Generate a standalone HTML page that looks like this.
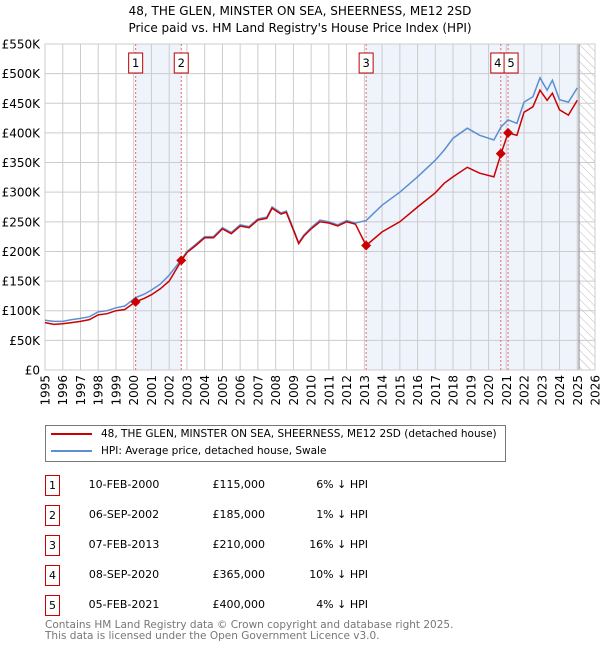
<!DOCTYPE html>
<html><head><meta charset="utf-8"><style>
body{margin:0;background:#fff;font-family:"DejaVu Sans","Liberation Sans",sans-serif;}
#wrap{position:relative;width:600px;height:650px;overflow:hidden;}
.t{position:absolute;font-size:11px;color:#000;white-space:nowrap;}
.box{position:absolute;border:1px solid #c00;width:13px;height:19px;text-align:center;line-height:19px;font-size:11px;background:#fff;}
</style></head><body>
<div id="wrap">
<div class="t" style="left:0;width:600px;text-align:center;top:3px;font-size:12px;line-height:17px">48, THE GLEN, MINSTER ON SEA, SHEERNESS, ME12 2SD<br>Price paid vs. HM Land Registry's House Price Index (HPI)</div>
<svg id="chart" width="600" height="420" style="position:absolute;left:0;top:0;font-family:'DejaVu Sans',sans-serif"></svg>
<div style="position:absolute;left:45px;top:425px;width:459px;height:35px;border:1px solid #777;">
 <div style="position:absolute;left:5px;top:2px;font-size:10.5px;white-space:nowrap"><span style="display:inline-block;width:41px;height:2px;background:#c00;vertical-align:middle;margin-right:9px"></span>48, THE GLEN, MINSTER ON SEA, SHEERNESS, ME12 2SD (detached house)</div>
 <div style="position:absolute;left:5px;top:19px;font-size:10.5px;white-space:nowrap"><span style="display:inline-block;width:41px;height:2px;background:#5b8fd0;vertical-align:middle;margin-right:9px"></span>HPI: Average price, detached house, Swale</div>
</div>
<div id="table"></div>
<div style="position:absolute;left:45px;top:620px;font-size:10.5px;color:#777;line-height:10.5px;white-space:nowrap">Contains HM Land Registry data © Crown copyright and database right 2025.<br>This data is licensed under the Open Government Licence v3.0.</div>
</div>
<script>
const hpiYears=[1995,1995.5,1996,1996.5,1997,1997.5,1998,1998.5,1999,1999.5,2000.1,2000.6,2001,2001.5,2002,2002.7,2003,2003.5,2004,2004.5,2005,2005.5,2006,2006.5,2007,2007.5,2007.8,2008.3,2008.6,2009,2009.3,2009.6,2010,2010.5,2011,2011.5,2012,2012.5,2013.1,2014,2015,2016,2017,2017.5,2018,2018.8,2019.5,2020.3,2020.7,2021.1,2021.6,2022,2022.5,2022.9,2023.3,2023.6,2024,2024.5,2025];
const hpiValues=[84,82,82,85,87,90,98,100,105,108,122,128,135,145,160,187,200,212,225,225,240,232,245,242,255,258,275,265,268,238,215,228,240,253,250,245,252,248,252,278,300,326,354,371,391,408,396,388,410,422,416,452,461,493,472,489,456,452,476];
const paidValues=[80,77,78,80,82,85,93,95,100,102,115,121,127,137,150,185,198,210,223,223,238,230,243,240,253,256,273,263,266,236,213,226,238,250,248,243,250,246,210,233,250,275,299,315,326,342,332,326,365,400,396,435,444,472,455,467,439,430,455];
const saleYears=[2000.11,2002.68,2013.1,2020.69,2021.1];
const saleValues=[115,185,210,365,400];
const saleLabels=["1","2","3","4","5"];
const saleDates=["10-FEB-2000","06-SEP-2002","07-FEB-2013","08-SEP-2020","05-FEB-2021"];
const salePrices=["£115,000","£185,000","£210,000","£365,000","£400,000"];
const saleDiffs=["6% ↓ HPI","1% ↓ HPI","16% ↓ HPI","10% ↓ HPI","4% ↓ HPI"];
const yTicks=[0,50,100,150,200,250,300,350,400,450,500,550];
const yTickLabels=["£0","£50K","£100K","£150K","£200K","£250K","£300K","£350K","£400K","£450K","£500K","£550K"];
const xStart=1995,xEnd=2026,dataEnd=2025.1;

const L=45,R=595,T=44,B=370;
const X=v=>L+(v-xStart)/(xEnd-xStart)*(R-L);
const Y=v=>B-v/550*(B-T);
const svg=document.getElementById('chart');
const NS='http://www.w3.org/2000/svg';
function mk(tag,attrs,parent){const e=document.createElementNS(NS,tag);for(const k in attrs)e.setAttribute(k,attrs[k]);(parent||svg).appendChild(e);return e;}
const defs=mk('defs',{});
const pat=mk('pattern',{id:'hatch',width:6,height:6,patternUnits:'userSpaceOnUse',patternTransform:'rotate(-45)'},defs);
mk('line',{x1:0,y1:0,x2:0,y2:6,stroke:'#bbb','stroke-width':1},pat);
let s1=mk('rect',{x:X(saleYears[0]),y:T,width:X(saleYears[1])-X(saleYears[0]),height:B-T,fill:'#eef3fc'});

let s2=mk('rect',{x:X(saleYears[2]),y:T,width:X(dataEnd)-X(saleYears[2]),height:B-T,fill:'#eef3fc'});

let h=mk('rect',{x:X(dataEnd),y:T,width:R-X(dataEnd),height:B-T,fill:'url(#hatch)'});

for(let i=0;i<yTicks.length;i++){
 const g=mk('line',{x1:L,x2:R,y1:Y(yTicks[i]),y2:Y(yTicks[i]),stroke:'#ccc','stroke-width':1});
 
 const t=mk('text',{x:L-5,y:Y(yTicks[i])+4.5,'text-anchor':'end','font-size':12,fill:'#000'});
 t.textContent=yTickLabels[i];
 
}
for(let yr=xStart;yr<=xEnd;yr++){
 const g=mk('line',{x1:X(yr),x2:X(yr),y1:T,y2:B,stroke:'#ccc','stroke-width':1});
 
 const t=mk('text',{x:0,y:0,'text-anchor':'end','font-size':12,fill:'#000',transform:`translate(${X(yr)+4.5},${B+5}) rotate(-90)`});
 t.textContent=yr;
 
}
let eL=mk('line',{x1:X(dataEnd),x2:X(dataEnd),y1:T,y2:B,stroke:'#888','stroke-width':1});

let fr=mk('rect',{x:L,y:T,width:R-L,height:B-T,fill:'none',stroke:'#ccc'});

for(let i=0;i<saleYears.length;i++){
 const l=mk('line',{x1:X(saleYears[i]),x2:X(saleYears[i]),y1:T,y2:B,stroke:'#e66','stroke-width':1,'stroke-dasharray':'2,2'});
 
}
function pathOf(vals){return hpiYears.map((y,i)=>(i?'L':'M')+X(y).toFixed(1)+','+Y(vals[i]).toFixed(1)).join('');}
let hp=mk('path',{d:pathOf(hpiValues),fill:'none',stroke:'#5b8fd0','stroke-width':1.5});

let pp=mk('path',{d:pathOf(paidValues),fill:'none',stroke:'#c00','stroke-width':1.5});

for(let i=0;i<saleYears.length;i++){
 const x=X(saleYears[i]),y=Y(saleValues[i]);
 const d=mk('path',{d:`M${x},${y-5}L${x+5},${y}L${x},${y+5}L${x-5},${y}Z`,fill:'#c00'});
 
}
for(let i=0;i<saleYears.length;i++){
 const x=X(saleYears[i]);
 const off=i===3?-3:(i===4?3:0);
 const g=mk('g',{});
 
 mk('rect',{x:x-7+off,y:53,width:14,height:20,fill:'#fff',stroke:'#b00'},g);
 const t=mk('text',{x:x+off,y:67,'text-anchor':'middle','font-size':11.5,fill:'#000'},g);
 t.textContent=saleLabels[i];
}
const tb=document.getElementById('table');
for(let i=0;i<saleLabels.length;i++){
 const top=475+i*30;
 const row=document.createElement('div');
 
 
 row.innerHTML=`<div class="box" style="left:45px;top:${top}px">${saleLabels[i]}</div>
 <div class="t" style="left:84px;top:${top+3}px;width:80px;text-align:center">${saleDates[i]}</div>
 <div class="t" style="left:185px;top:${top+3}px;width:80px;text-align:right">${salePrices[i]}</div>
 <div class="t" style="left:288px;top:${top+3}px;width:80px;text-align:right">${saleDiffs[i]}</div>`;
 tb.appendChild(row);
}
</script>
</body></html>
